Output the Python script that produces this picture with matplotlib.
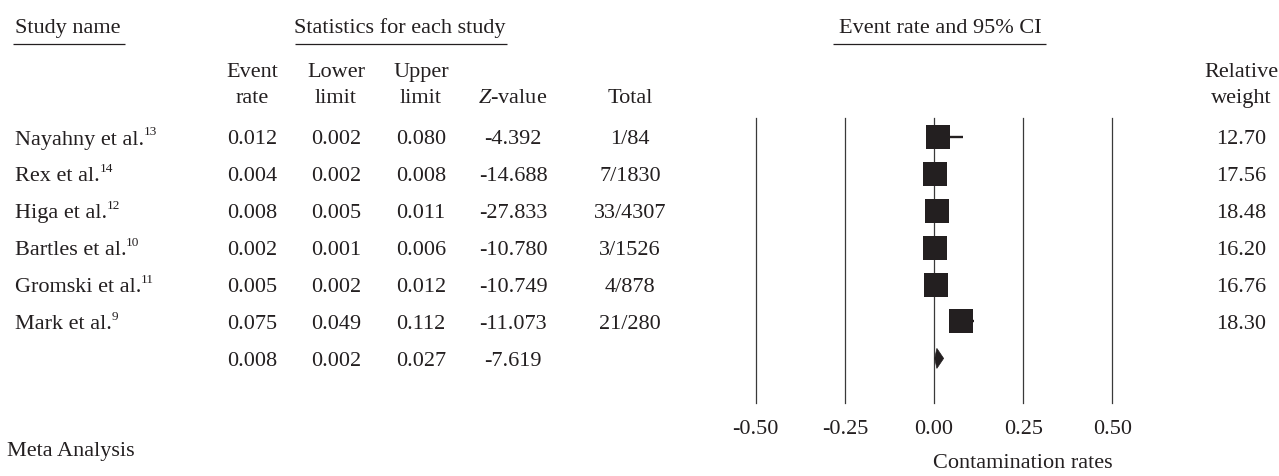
import matplotlib
matplotlib.use("Agg")
import matplotlib.pyplot as plt
from matplotlib.patches import Polygon

# ---- data -------------------------------------------------------------
studies = ["Nayahny et al.", "Rex et al.", "Higa et al.", "Bartles et al.",
           "Gromski et al.", "Mark et al."]
refs = ["13", "14", "12", "10", "11", "9"]
event_rate = [0.012, 0.004, 0.008, 0.002, 0.005, 0.075]
lower_limit = [0.002, 0.002, 0.005, 0.001, 0.002, 0.049]
upper_limit = [0.080, 0.008, 0.011, 0.006, 0.012, 0.112]
z_value = [-4.392, -14.688, -27.833, -10.780, -10.749, -11.073]
totals = ["1/84", "7/1830", "33/4307", "3/1526", "4/878", "21/280"]
rel_weight = [12.70, 17.56, 18.48, 16.20, 16.76, 18.30]

pooled_rate = 0.008
pooled_lower = 0.002
pooled_upper = 0.027
pooled_z = -7.619

x_ticks = [-0.50, -0.25, 0.00, 0.25, 0.50]

# ---- styling ----------------------------------------------------------
INK = "#231f20"
FS = 16
plt.rcParams["font.family"] = ["Liberation Serif", "DejaVu Serif"]
plt.rcParams["mathtext.fontset"] = "custom"
plt.rcParams["mathtext.rm"] = "Liberation Serif"
plt.rcParams["mathtext.it"] = "Liberation Serif:italic"

W, H = 1279, 476
fig = plt.figure(figsize=(W / 100, H / 100), dpi=100)

# page layer in pixel units for the table text
tab = fig.add_axes([0, 0, 1, 1])
tab.set_xlim(0, W)
tab.set_ylim(H, 0)
tab.axis("off")

ROW0, STEP = 137.0, 36.9
n = len(studies)


def row_y(i):
    return ROW0 + STEP * i


def txt(x, y, s, ha="center", **kw):
    return tab.text(x, y, s, ha=ha, va="baseline", fontsize=kw.pop("fontsize", FS),
                    color=INK, **kw)


def underline(x0, x1, y):
    tab.plot([x0, x1], [y, y], color=INK, lw=0.9, solid_capstyle="butt")


# group headings
txt(15, 33, "Study name", ha="left")
underline(13, 125, 44)
txt(399.5, 33, "Statistics for each study")
underline(295, 507, 44)
txt(940, 33, "Event rate and 95% CI")
underline(833, 1046, 44)

# column headings
col_event, col_lower, col_upper, col_z, col_total, col_w = 252, 336, 421, 513, 630, 1241
L1, L2 = 77, 103
txt(col_event, L1, "Event")
txt(col_event, L2, "rate")
txt(col_lower, L1, "Lower")
txt(col_lower, L2, "limit")
txt(col_upper, L1, "Upper")
txt(col_upper, L2, "limit")
txt(col_z, L2, "$Z$-value")
txt(col_total, L2, "Total")
txt(col_w, L1, "Relative")
txt(col_w, L2, "weight")

# study rows
for i in range(n):
    yb = row_y(i) + 7.5
    name = txt(15, yb, studies[i], ha="left")
    tab.annotate(refs[i], xy=(1, 1), xycoords=name, xytext=(-0.3, 3.2),
                 textcoords="offset points", ha="left", va="top",
                 fontsize=9.5, color=INK)
    txt(col_event, yb, f"{event_rate[i]:.3f}")
    txt(col_lower, yb, f"{lower_limit[i]:.3f}")
    txt(col_upper, yb, f"{upper_limit[i]:.3f}")
    txt(col_z, yb, f"{z_value[i]:.3f}")
    txt(col_total, yb, totals[i])
    txt(col_w, yb, f"{rel_weight[i]:.2f}")

# pooled row
yb = row_y(n) + 7.5
txt(col_event, yb, f"{pooled_rate:.3f}")
txt(col_lower, yb, f"{pooled_lower:.3f}")
txt(col_upper, yb, f"{pooled_upper:.3f}")
txt(col_z, yb, f"{pooled_z:.3f}")

txt(7, 456, "Meta Analysis", ha="left")

# ---- forest panel -----------------------------------------------------
px_left, px_right = 755.7, 1112.3
px_top, px_bot = 118.0, 403.0
fax = fig.add_axes([px_left / W, 1 - px_bot / H,
                    (px_right - px_left) / W, (px_bot - px_top) / H])
fax.set_xlim(x_ticks[0], x_ticks[-1])
fax.set_ylim((px_bot - ROW0) / STEP, (px_top - ROW0) / STEP)
fax.patch.set_visible(False)
for sp in fax.spines.values():
    sp.set_visible(False)
fax.set_yticks([])

for xv in x_ticks:
    fax.axvline(xv, color="#3a3a3a", lw=0.9, zorder=1, clip_on=False)

fax.set_xticks(x_ticks)
fax.set_xticklabels([f"{v:.2f}" for v in x_ticks], fontsize=FS, color=INK)
fax.tick_params(axis="x", length=0, pad=12)

rows = list(range(n))
fax.hlines(rows, lower_limit, upper_limit, color=INK, lw=1.7, zorder=2)
fax.plot(event_rate, rows, linestyle="none", marker="s", markersize=16.6,
         markeredgewidth=0, color=INK, zorder=3, clip_on=False)

dh = 10.0 / STEP
diamond = Polygon([(pooled_lower, n), (pooled_rate, n - dh),
                   (pooled_upper, n), (pooled_rate, n + dh)],
                  closed=True, facecolor=INK, edgecolor=INK, lw=0.5, zorder=3)
fax.add_patch(diamond)

fax.set_xlabel("Contamination rates", fontsize=FS, color=INK)
fax.xaxis.set_label_coords(0.75, (px_bot - 463) / (px_bot - px_top))
fax.xaxis.label.set_va("center")

fig.savefig("out.png", dpi=100)
